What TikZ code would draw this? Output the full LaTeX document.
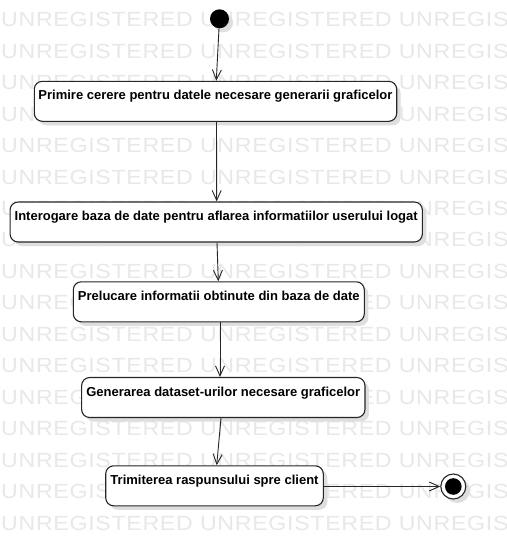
\documentclass[tikz,border=0pt]{standalone}
\usepackage{fontspec}
\usepackage{graphicx}
\setmainfont{Liberation Sans}
\newfontfamily\wmfont[LetterSpace=3]{Liberation Sans}
\usetikzlibrary{arrows.meta,shadows}
\definecolor{wmgray}{HTML}{E8E8E8}
\definecolor{shadowgray}{HTML}{DEDEDE}
\tikzset{
  act/.style={draw=black!85, line width=1.1pt, rounded corners=8pt, fill=white,
    drop shadow={shadow xshift=4pt, shadow yshift=-4pt, fill=shadowgray, opacity=1},
    inner xsep=0pt, inner ysep=0pt, text height=18.5pt, text depth=21.5pt,
    font=\fontsize{13}{15}\selectfont\bfseries, anchor=center},
  flow/.style={draw=black!85, line width=0.9pt, -{Straight Barb[length=10pt,width=9pt,line width=0.9pt]}},
  wm/.style={anchor=base west, inner sep=0pt, text=wmgray, font=\wmfont\fontsize{20.5}{21}\selectfont}
}
\begin{document}
\begin{tikzpicture}[x=1pt,y=-1pt]
\useasboundingbox (0,0) rectangle (506,546);
\fill[white] (0,0) rectangle (506,546);
\foreach \k in {0,...,16}{
  \node[wm] (wm\k) at (1,{26.8+31.45*\k}) {\scalebox{1.13}[1]{UNREGISTERED UNREGISTERED UNREGISTERED}};
}
\node[circle, fill=black, minimum size=19pt, inner sep=0pt,
  drop shadow={shadow xshift=4pt, shadow yshift=-4pt, fill=shadowgray, opacity=1}] (start) at (219.5,18.8) {};
\node[act, minimum width=362.4pt] (b1) at (215.5,101.3) {Primire cerere pentru datele necesare generarii graficelor};
\node[act, minimum width=412.3pt] (b2) at (216.2,222) {Interogare baza de date pentru aflarea informatiilor userului logat};
\node[act, minimum width=291pt] (b3) at (218.8,301.8) {Prelucare informatii obtinute din baza de date};
\node[act, minimum width=283.3pt] (b4) at (223.3,397.5) {Generarea dataset-urilor necesare graficelor};
\node[act, minimum width=217.6pt] (b5) at (214.5,485.8) {Trimiterea raspunsului spre client};
\node[circle, draw=black!85, line width=1.1pt, fill=white, minimum size=25pt, inner sep=0pt,
  drop shadow={shadow xshift=4pt, shadow yshift=-4pt, fill=shadowgray, opacity=1},
  path picture={\fill[black] (path picture bounding box.center) circle (8.3pt);}] (endn) at (453.3,486.5) {};
\draw[flow] (start) -- ([xshift=0.8pt]b1.north);
\draw[flow] ([xshift=1pt]b1.south) -- ([xshift=0.5pt]b2.north);
\draw[flow] ([xshift=0.8pt]b2.south) -- ([xshift=-0.5pt]b3.north);
\draw[flow] ([xshift=1.2pt]b3.south) -- ([xshift=-3.3pt]b4.north);
\draw[flow] ([xshift=-2.3pt]b4.south) -- ([xshift=2.2pt]b5.north);
\draw[flow] (b5.east |- endn) -- (endn);
\end{tikzpicture}
\end{document}
